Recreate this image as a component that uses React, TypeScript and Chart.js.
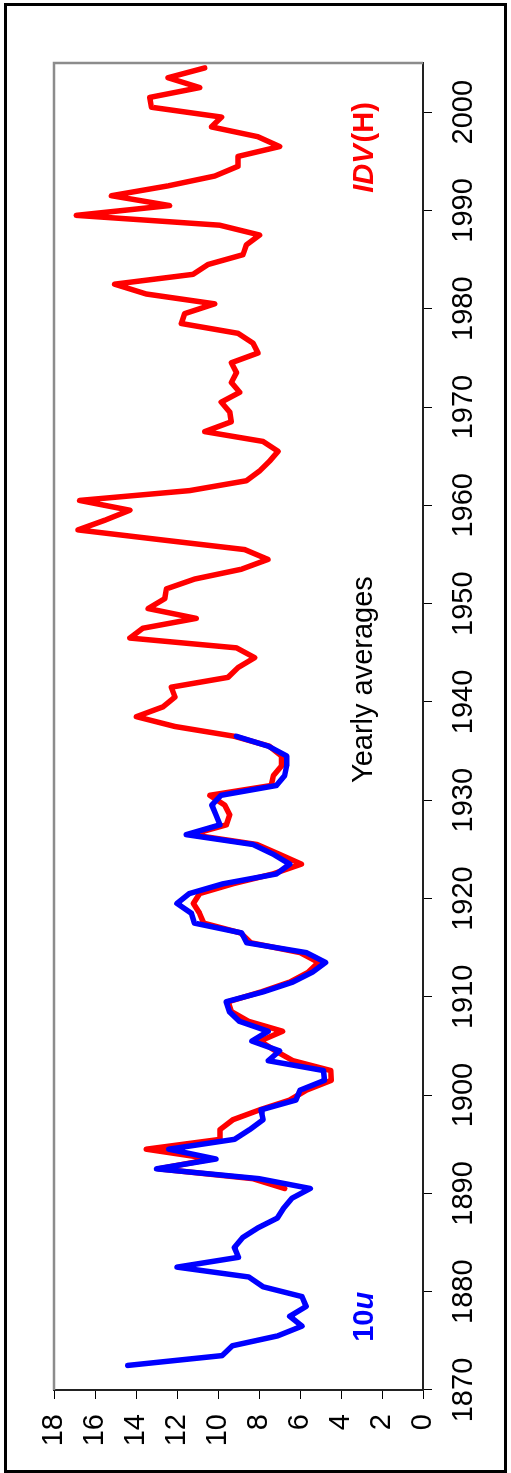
import React, { useEffect, useRef } from 'react';
import { Chart, registerables } from 'chart.js';

Chart.register(...registerables);

// Year axis ticks and value axis ticks
const yearTicks = [1870, 1880, 1890, 1900, 1910, 1920, 1930, 1940, 1950, 1960, 1970, 1980, 1990, 2000];
const valueTicks = [0, 2, 4, 6, 8, 10, 12, 14, 16, 18];

// 10u series (blue), yearly averages 1872-1936
const blueStartYear = 1872;
const blue10u = [
  14.4, 9.8, 9.3, 7.1, 5.9, 6.5, 5.7, 5.9, // 1872-1879
  7.8, 8.5, 12.0, 9.0, 9.2, 8.8, 8.05, 7.1, 6.8, 6.4, // 1880-1889
  5.5, 8.0, 13.0, 10.1, 12.4, 9.2, 8.45, 7.8, 7.9, 6.2, // 1890-1899
  6.0, 4.8, 4.85, 7.55, 7.0, 8.35, 7.55, 8.95, 9.45, 9.6, // 1900-1909
  7.8, 6.35, 5.4, 4.75, 5.7, 8.6, 8.85, 11.15, 11.3, 12.0, // 1910-1919
  11.4, 9.75, 7.15, 6.5, 7.3, 8.3, 11.55, 9.9, 10.1, 10.3, // 1920-1929
  9.85, 7.15, 6.75, 6.65, 6.65, 7.55, 9.1, // 1930-1936
];

// IDV(H) series (red), yearly averages 1890-2004
const redStartYear = 1890;
const redIDV = [
  6.75, 8.3, 12.9, 10.3, 13.5, 9.9, 9.9, 9.27, 7.97, 6.5, // 1890s
  5.69, 4.47, 4.5, 6.34, 7.2, 7.95, 6.85, 8.5, 9.35, 9.5, // 1900s
  7.9, 6.5, 5.6, 5.1, 6.0, 8.4, 8.9, 10.7, 10.9, 11.2, // 1910s
  10.9, 9.27, 7.32, 5.93, 7.0, 8.1, 11.3, 9.59, 9.43, 9.67, // 1920s
  10.4, 7.4, 7.3, 6.9, 6.9, 7.5, 9.19, 12.1, 13.98, 12.68, // 1930s
  12.1, 12.28, 9.51, 9.02, 8.21, 9.1, 14.3, 13.66, 11.06, 13.41, // 1940s
  12.6, 12.52, 11.14, 8.86, 7.56, 8.7, 12.8, 16.83, 15.5, 14.3, // 1950s
  16.75, 11.38, 8.62, 7.97, 7.48, 7.07, 7.8, 10.65, 9.35, 9.43, // 1960s
  9.84, 8.94, 9.35, 9.1, 9.35, 8.05, 8.29, 9.02, 11.79, 11.63, // 1970s
  10.16, 13.5, 15.04, 11.22, 10.49, 8.78, 8.62, 7.97, 9.92, 16.91, // 1980s
  12.36, 15.2, 12.44, 10.16, 9.02, 9.02, 6.99, 8.05, 10.32, 9.83, // 1990s
  13.25, 13.33, 10.89, 12.44, 10.65, // 2000-2004
];

const FONT = "'Liberation Sans', Arial, Helvetica, sans-serif";

const toPoints = (start: number, vals: number[]) =>
  vals.map((v, i) => ({ x: start + i + 0.5, y: v }));

const decorPlugin = {
  id: 'decor',
  afterDraw(chart: any) {
    const { ctx, chartArea: a, scales } = chart;
    const xs = scales.x;
    const ys = scales.y;
    ctx.save();
    // grey plot-area frame (top and right in unrotated frame)
    ctx.strokeStyle = '#8c8c8c';
    ctx.lineWidth = 2.5;
    ctx.beginPath();
    ctx.moveTo(a.left, a.top);
    ctx.lineTo(a.right, a.top);
    ctx.lineTo(a.right, a.bottom);
    ctx.stroke();

    ctx.textAlign = 'left';
    ctx.textBaseline = 'alphabetic';

    // Yearly averages
    ctx.fillStyle = '#000000';
    ctx.font = `29px ${FONT}`;
    ctx.fillText('Yearly averages', xs.getPixelForValue(1931.75), ys.getPixelForValue(2.5));

    // IDV(H)
    ctx.fillStyle = '#FF0000';
    let x0 = xs.getPixelForValue(1991.8);
    const yb = ys.getPixelForValue(2.45);
    ctx.font = `italic bold 29px ${FONT}`;
    ctx.fillText('IDV', x0, yb);
    x0 += ctx.measureText('IDV').width + 2;
    ctx.font = `bold 29px ${FONT}`;
    ctx.fillText('(H)', x0, yb);

    // 10u
    ctx.fillStyle = '#0000FF';
    let x1 = xs.getPixelForValue(1874.9);
    ctx.font = `bold 29px ${FONT}`;
    ctx.fillText('10', x1, yb);
    x1 += ctx.measureText('10').width;
    ctx.font = `italic bold 29px ${FONT}`;
    ctx.fillText('u', x1, yb);
    ctx.restore();
  },
};

export default function App() {
  const ref = useRef<HTMLCanvasElement | null>(null);

  useEffect(() => {
    if (!ref.current) return;
    const chart = new Chart(ref.current, {
      type: 'line',
      data: {
        datasets: [
          {
            label: '10u',
            data: toPoints(blueStartYear, blue10u),
            borderColor: '#0000FF',
            backgroundColor: '#0000FF',
            borderWidth: 5.5,
            pointRadius: 0,
            tension: 0,
            borderCapStyle: 'round',
            borderJoinStyle: 'round',
            order: 0,
          },
          {
            label: 'IDV(H)',
            data: toPoints(redStartYear, redIDV),
            borderColor: '#FF0000',
            backgroundColor: '#FF0000',
            borderWidth: 5.5,
            pointRadius: 0,
            tension: 0,
            borderCapStyle: 'round',
            borderJoinStyle: 'round',
            order: 1,
          },
        ],
      },
      options: {
        responsive: false,
        animation: false,
        devicePixelRatio: 1,
        layout: { padding: { left: 0, top: 54, right: 63, bottom: 0 } },
        plugins: { legend: { display: false }, tooltip: { enabled: false } },
        scales: {
          x: {
            type: 'linear',
            min: 1870,
            max: 2005,
            position: 'bottom',
            afterBuildTicks: (s: any) => {
              s.ticks = yearTicks.map((v) => ({ value: v }));
            },
            afterFit: (s: any) => {
              s.height = 88;
            },
            grid: { drawOnChartArea: false, drawTicks: true, tickLength: 9, color: '#000', lineWidth: 1 },
            border: { display: true, color: '#222', width: 2 },
            ticks: {
              font: { family: FONT, size: 29 },
              color: '#000',
              padding: 15,
              maxRotation: 0,
              autoSkip: false,
              callback: (v: any) => String(v),
            },
          },
          y: {
            type: 'linear',
            min: 0,
            max: 18,
            afterBuildTicks: (s: any) => {
              s.ticks = valueTicks.map((v) => ({ value: v }));
            },
            afterFit: (s: any) => {
              s.width = 83;
            },
            grid: { drawOnChartArea: false, drawTicks: true, tickLength: 9, color: '#000', lineWidth: 1 },
            border: { display: true, color: '#222', width: 2 },
            ticks: {
              font: { family: FONT, size: 29 },
              color: '#000',
              padding: 15,
              autoSkip: false,
              callback: (v: any) => String(v),
            },
          },
        },
      },
      plugins: [decorPlugin],
    } as any);
    return () => chart.destroy();
  }, []);

  return (
    <>
      <div
        style={{
          position: 'fixed',
          left: 0,
          top: 0,
          width: 1473,
          height: 511,
          transformOrigin: '0 0',
          transform: 'translateY(1473px) rotate(-90deg)',
        }}
      >
        <canvas ref={ref} width={1473} height={511} style={{ display: 'block', width: 1473, height: 511 }} />
      </div>
      <div
        style={{
          position: 'fixed',
          left: 4,
          top: 3,
          width: 503,
          height: 1470,
          border: '3px solid #000',
          boxSizing: 'border-box',
          pointerEvents: 'none',
        }}
      />
    </>
  );
}
